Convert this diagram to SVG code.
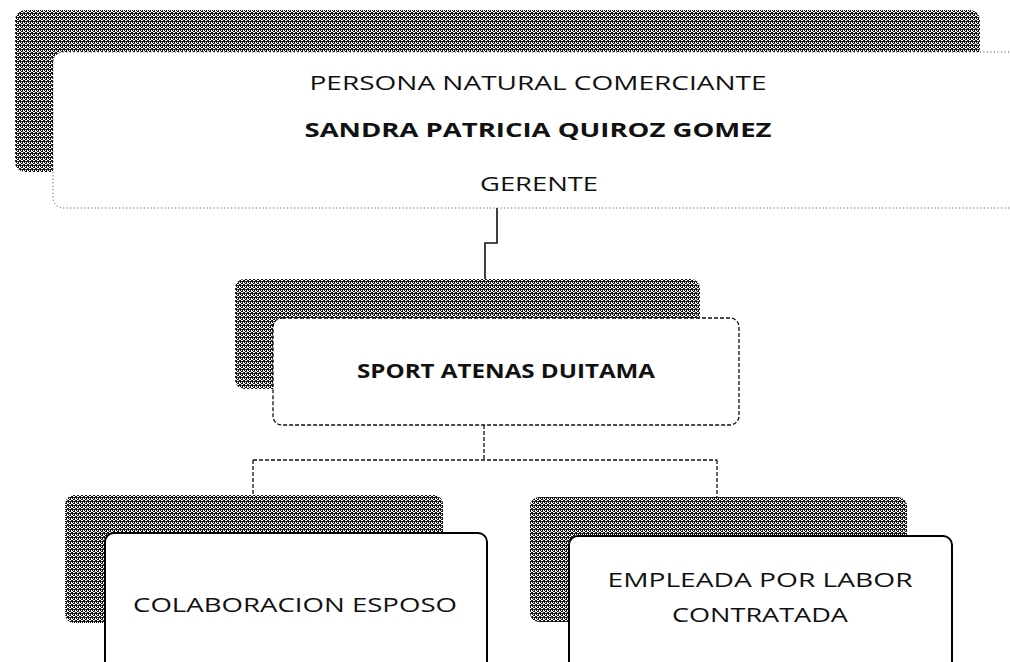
<svg xmlns="http://www.w3.org/2000/svg" width="1010" height="662" viewBox="0 0 1010 662">
<defs>
<pattern id="ht" width="4" height="4" patternUnits="userSpaceOnUse">
<rect width="4" height="4" fill="#fff"/>
<rect x="0" y="0" width="1" height="3" fill="#111"/>
<rect x="2" y="1" width="1" height="3" fill="#111"/>
<rect x="1" y="3" width="1" height="1" fill="#111"/>
<rect x="3" y="0" width="1" height="2" fill="#222"/>
<rect x="1" y="1" width="1" height="1" fill="#333"/>
</pattern>
<style>
.shadow{fill:url(#ht);}
.solid{fill:#fff;stroke:#000;stroke-width:2;}
.dashbox{fill:#fff;stroke:#111;stroke-width:1.3;stroke-dasharray:4 2;}
.dotbox{fill:#fff;stroke:#444;stroke-width:1;stroke-dasharray:1 2.5;}
.conn{fill:none;stroke:#111;stroke-width:1.3;stroke-dasharray:4 2;}
.t{font-family:"Open Sans","Liberation Sans",sans-serif;font-size:20px;fill:#111;text-anchor:middle;}
.b{font-weight:bold;}
</style>
</defs>
<g id="connectors">
<path class="conn" d="M497,208 V243 H485 V279" style="stroke-dasharray:none;stroke-width:1.6"/>
<path class="conn" d="M484,425 V460"/>
<path class="conn" d="M253,460 H717"/>
<path class="conn" d="M253,460 V495"/>
<path class="conn" d="M717,460 V497"/>
</g>
<g id="node-gerente">
<rect class="shadow" x="15" y="10" width="965" height="162" rx="10"/>
<rect class="dotbox" x="53" y="52" width="980" height="156" rx="10"/>
<text class="t" x="538" y="90" textLength="457" lengthAdjust="spacingAndGlyphs">PERSONA NATURAL COMERCIANTE</text>
<text class="t b" x="538" y="137" textLength="467" lengthAdjust="spacingAndGlyphs">SANDRA PATRICIA QUIROZ GOMEZ</text>
<text class="t" x="539" y="191" textLength="118" lengthAdjust="spacingAndGlyphs">GERENTE</text>
</g>
<g id="node-sport">
<rect class="shadow" x="235" y="279" width="465" height="110" rx="9"/>
<rect class="dashbox" x="273" y="318" width="466" height="107" rx="9"/>
<text class="t b" x="506" y="378" textLength="298" lengthAdjust="spacingAndGlyphs">SPORT ATENAS DUITAMA</text>
</g>
<g id="node-colaboracion">
<rect class="shadow" x="65" y="495" width="378" height="128" rx="9"/>
<rect class="solid" x="105" y="533" width="382" height="140" rx="9"/>
<text class="t" x="295" y="612" textLength="324" lengthAdjust="spacingAndGlyphs">COLABORACION ESPOSO</text>
</g>
<g id="node-empleada">
<rect class="shadow" x="530" y="497" width="377" height="125" rx="9"/>
<rect class="solid" x="569" y="536" width="383" height="140" rx="9"/>
<text class="t" x="760" y="587" textLength="305" lengthAdjust="spacingAndGlyphs">EMPLEADA POR LABOR</text>
<text class="t" x="760" y="622" textLength="176" lengthAdjust="spacingAndGlyphs">CONTRATADA</text>
</g>
</svg>
